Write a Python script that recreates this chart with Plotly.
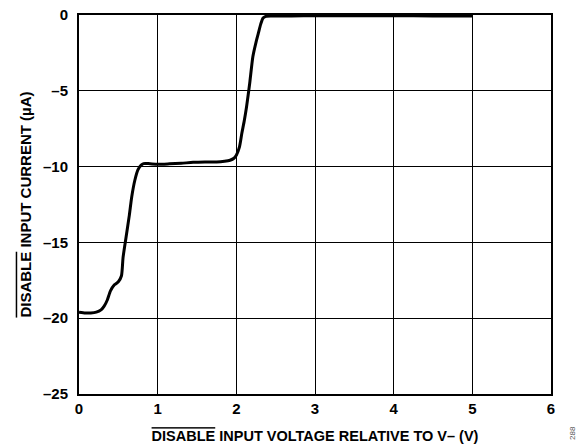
import plotly.graph_objects as go

# DISABLE pin voltage (V) vs. input current (uA)
voltage = [0.0, 0.08, 0.15, 0.22, 0.28, 0.32, 0.36, 0.40, 0.45, 0.50, 0.54, 0.56,
           0.60, 0.64, 0.67, 0.71, 0.75, 0.79, 0.82, 0.88, 1.0, 1.15, 1.3, 1.45,
           1.6, 1.75, 1.85, 1.92, 1.97, 2.0, 2.04, 2.07, 2.10, 2.13, 2.17, 2.21,
           2.25, 2.28, 2.31, 2.34, 2.38, 2.45, 2.7, 3.0, 3.5, 4.0, 4.5, 5.0]
current = [-19.6, -19.65, -19.65, -19.6, -19.45, -19.2, -18.8, -18.2, -17.8, -17.6,
           -17.2, -16.0, -14.6, -13.2, -12.0, -10.9, -10.2, -9.9, -9.8, -9.8, -9.85,
           -9.82, -9.78, -9.72, -9.7, -9.7, -9.65, -9.58, -9.45, -9.25, -8.7, -7.8,
           -7.0, -6.05, -4.5, -2.75, -1.8, -1.2, -0.6, -0.2, -0.08, -0.06, -0.06,
           -0.05, -0.05, -0.05, -0.06, -0.06]

x_ticks = [0, 1, 2, 3, 4, 5, 6]
y_ticks = [0, -5, -10, -15, -20, -25]

font_family = "Liberation Sans, Arial, sans-serif"

fig = go.Figure()
fig.add_trace(go.Scatter(
    x=voltage, y=current, mode="lines",
    line=dict(color="black", width=3, shape="spline", smoothing=0.6),
    hoverinfo="skip", showlegend=False,
))

axis_common = dict(
    showgrid=True, gridcolor="black", gridwidth=1,
    showline=True, linecolor="black", linewidth=2, mirror=True,
    zeroline=False, ticks="",
    tickfont=dict(family=font_family, size=15, color="black", weight="bold"),
)

fig.update_layout(
    width=582, height=447,
    margin=dict(l=79, r=31, t=15, b=53, autoexpand=False),
    paper_bgcolor="white", plot_bgcolor="white",
    xaxis=dict(
        range=[0, 6], tickvals=x_ticks, ticktext=[str(v) for v in x_ticks],
        title=dict(
            text='<span style="text-decoration:overline">DISABLE</span> INPUT VOLTAGE RELATIVE TO V– (V)',
            font=dict(family=font_family, size=14.5, color="black", weight="bold"),
            standoff=15,
        ),
        **axis_common,
    ),
    yaxis=dict(
        range=[-25, 0], tickvals=y_ticks,
        ticktext=["0" if v == 0 else "–" + str(abs(v)) for v in y_ticks],
        title=dict(
            text='<span style="text-decoration:overline">DISABLE</span> INPUT CURRENT (µA)',
            font=dict(family=font_family, size=15, color="black", weight="bold"),
            standoff=8,
        ),
        ticklabelstandoff=6,
        **axis_common,
    ),
    annotations=[dict(
        text="288", x=1.0, y=0.0, xref="paper", yref="paper",
        xanchor="center", yanchor="top", xshift=21, yshift=-30,
        textangle=-90, showarrow=False,
        font=dict(family=font_family, size=8, color="#555555"),
    )],
)

fig.write_html("out.html")
